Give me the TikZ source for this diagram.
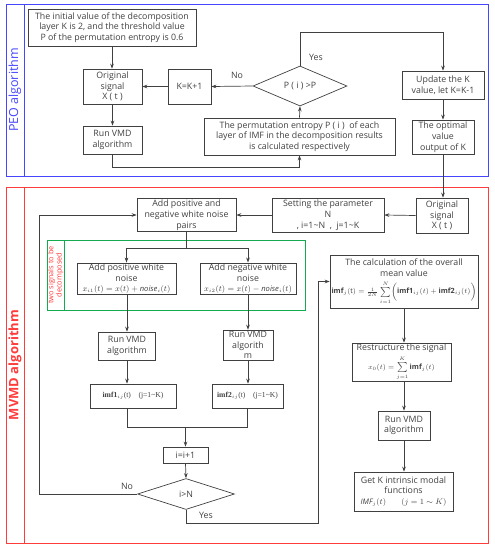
\documentclass[tikz,border=0pt]{standalone}
\usepackage{fontspec}
\setmainfont{Open Sans}
\newfontfamily\serifb{Liberation Serif}
\usetikzlibrary{shapes.geometric,arrows.meta}
\definecolor{ink}{RGB}{64,64,64}
\definecolor{peoblue}{RGB}{70,70,255}
\definecolor{mred}{RGB}{255,60,60}
\definecolor{mgreen}{RGB}{20,170,80}
\tikzset{
  box/.style={draw=ink, line width=0.7pt, rectangle, align=center, inner sep=1pt, text=ink,
    font=\fontsize{8.8}{10.8}\selectfont},
  dia/.style={draw=ink, line width=0.7pt, diamond, inner sep=0pt, text=ink,
    font=\fontsize{8.8}{10.8}\selectfont},
  arr/.style={draw=ink, line width=0.7pt, -{Stealth[length=5pt,width=3.6pt]}},
  ln/.style={draw=ink, line width=0.7pt},
  lab/.style={text=ink, font=\fontsize{8.8}{10}\selectfont},
}
\begin{document}
\begin{tikzpicture}[x=1pt,y=-1pt]
\useasboundingbox (0,0) rectangle (495,550);
% frames
\draw[peoblue, line width=1pt] (6,4) rectangle (488,176);
\draw[peoblue, line width=1pt] (24,4) -- (24,176);
\node[rotate=90, text=peoblue, font=\fontsize{12.5}{14}\selectfont] (peol) at (15,90) {PEO algorithm};
\draw[mred, line width=1pt] (6,187) rectangle (488,543);
\draw[mred, line width=1pt] (24,187) -- (24,543);
\node[rotate=90, text=mred, font=\bfseries\fontsize{13}{15}\selectfont] (mvl) at (15,365) {MVMD algorithm};
\draw[mgreen, line width=1pt] (47,240) rectangle (305,310);
\draw[mgreen, line width=1pt] (64,240) -- (64,310);
\node[rotate=90, text=mred, align=center, font=\fontsize{7.4}{8.2}\selectfont] (twos) at (55.5,275) {two signals to be\\decomposed};

% PEO nodes
\node[box, minimum width=168, minimum height=37] (b1) at (112,27.5) {The initial value of the decomposition\\layer K is 2, and the threshold value\\P of the permutation entropy is 0.6};
\node[box, minimum width=59, minimum height=35] (orig1) at (112.5,86.5) {Original\\signal\\X ( t )};
\node[box, minimum width=43, minimum height=35] (kk) at (189.5,86.5) {K=K+1};
\node[dia, minimum width=94, minimum height=30] (dia1) at (300,86) {P ( i ) >P};
\node[box, minimum width=82, minimum height=28] (upd) at (443,85) {Update the K\\value, let K=K-1};
\node[box, minimum width=62, minimum height=34] (opt) at (443,137) {The optimal\\value\\output of K};
\node[box, minimum width=59, minimum height=28] (run1) at (112.5,140) {Run VMD\\algorithm};
\node[box, minimum width=191, minimum height=37] (perm) at (299.5,136.5) {The permutation entropy P ( i )~ of each\\layer of IMF in the decomposition results\\is calculated respectively};

\draw[arr] (b1.south) -- (b1.south |- orig1.north);
\draw[arr] (kk.west) -- (orig1.east);
\draw[arr] (dia1.west) -- (kk.east);
\node[lab] (no1) at (237,75) {No};
\coordinate (ytop) at (300,32);
\draw[arr] (dia1.north) -- (ytop) -| (upd.north);
\node[lab] (yes1) at (316,57) {Yes};
\draw[arr] (upd.south) -- (opt.north);
\draw[arr] (orig1.south) -- (orig1.south |- run1.north);
\coordinate (c1) at (112.5,167);
\draw[arr] (run1.south) -- (c1) -| (perm.south);
\draw[arr] (perm.north) -- (dia1.south);

% MVMD nodes
\node[box, minimum width=52, minimum height=35] (orig2) at (442,215.5) {Original\\signal\\X ( t )};
\node[box, minimum width=112, minimum height=34] (setp) at (328,215) {Setting the parameter\\N\\, i=1\textasciitilde N~ , ~j=1\textasciitilde K};
\node[box, minimum width=99, minimum height=32] (pairs) at (186.5,215) {Add positive and\\negative white noise\\pairs};
\node[box, minimum width=99, minimum height=29] (addp) at (126.5,278.5) {Add positive white\\noise\\[-1pt]{\fontsize{7.6}{8}\selectfont$x_{i1}(t)=x(t)+\mathit{noise}_i(t)$}};
\node[box, minimum width=96, minimum height=29] (addn) at (248,278.5) {Add negative white\\noise\\[-1pt]{\fontsize{7.6}{8}\selectfont$x_{i2}(t)=x(t)-\mathit{noise}_i(t)$}};
\node[box, minimum width=57, minimum height=28] (run2) at (127,346) {Run VMD\\algorithm};
\node[box, minimum width=50, minimum height=28] (run3) at (248,345) {Run VMD\\algorith\\m};
\node[box, minimum width=86, minimum height=24, font=\serifb\fontsize{7.6}{8}\selectfont] (imf1) at (133,396) {\textbf{imf1}$_{ij}$(t)\quad (j=1\textasciitilde K)};
\node[box, minimum width=71, minimum height=24, font=\serifb\fontsize{7.6}{8}\selectfont] (imf2) at (247.5,396) {\textbf{imf2}$_{ij}$(t)\quad (j=1\textasciitilde K)};
\node[box, minimum width=45, minimum height=16] (inc) at (185.5,455) {i=i+1};
\node[dia, minimum width=97, minimum height=31] (dia2) at (186,494) {i>N};
\node[box, minimum width=148, minimum height=53, inner sep=0pt] (calc) at (404,281.5) {The calculation of the overall\\mean value\\[3pt]{\fontsize{7.2}{8}\selectfont$\mathbf{imf}_j(\mathrm{t}) = \frac{1}{2N}\sum\limits_{i=1}^{N}\Bigl(\mathbf{imf1}_{ij}(t)+\mathbf{imf2}_{ij}(t)\Bigr)$}};
\node[box, minimum width=99, minimum height=38, inner sep=0pt] (rest) at (401.5,362) {Restructure the signal\\[3pt]{\fontsize{7.2}{8}\selectfont$x_0(t)=\sum\limits_{j=1}^{K}\mathbf{imf}_j(t)$}};
\node[box, minimum width=52, minimum height=29] (run4) at (404,425.5) {Run VMD\\algorithm};
\node[box, minimum width=99, minimum height=39] (getk) at (403.5,491.5) {Get K intrinsic modal\\functions\\{\fontsize{7.6}{8}\selectfont$\mathit{IMF}_j(t)\qquad (j=1\sim K)$}};

\draw[arr] (opt.south) -- (opt.south |- orig2.north);
\draw[arr] (orig2.west) -- (setp.east);
\draw[arr] (setp.west) -- (pairs.east);
\coordinate (noc) at (39,494);
\draw[arr] (dia2.west) -- (noc) |- (pairs.west);
\node[lab] (no2) at (127,486) {No};
\coordinate (sp) at (186.5,248);
\draw[ln] (pairs.south) -- (sp);
\draw[arr] (sp) -| (addp.north);
\draw[arr] (sp) -| (addn.north);
\draw[arr] (run2.north |- addp.south) -- (run2.north);
\draw[arr] (addn.south) -- (run3.north);
\draw[arr] (run2.south) -- (run2.south |- imf1.north);
\draw[arr] (run3.south) -- (run3.south |- imf2.north);
\coordinate (j1) at (127,427);
\draw[ln] (j1 |- imf1.south) -- (j1) -| (imf2.south);
\draw[arr] (inc.north |- j1) -- (inc.north);
\draw[arr] (inc.south) -- (dia2.north);
\coordinate (y2) at (318,523);
\draw[arr] (dia2.south) |- (y2) -- (y2 |- calc.west) -- (calc.west);
\node[lab] (yes2) at (206,515) {Yes};
\draw[arr] (calc.south) -- (calc.south |- rest.north);
\draw[arr] (run4.north |- rest.south) -- (run4.north);
\draw[arr] (run4.south) -- (run4.south |- getk.north);
\end{tikzpicture}
\end{document}
